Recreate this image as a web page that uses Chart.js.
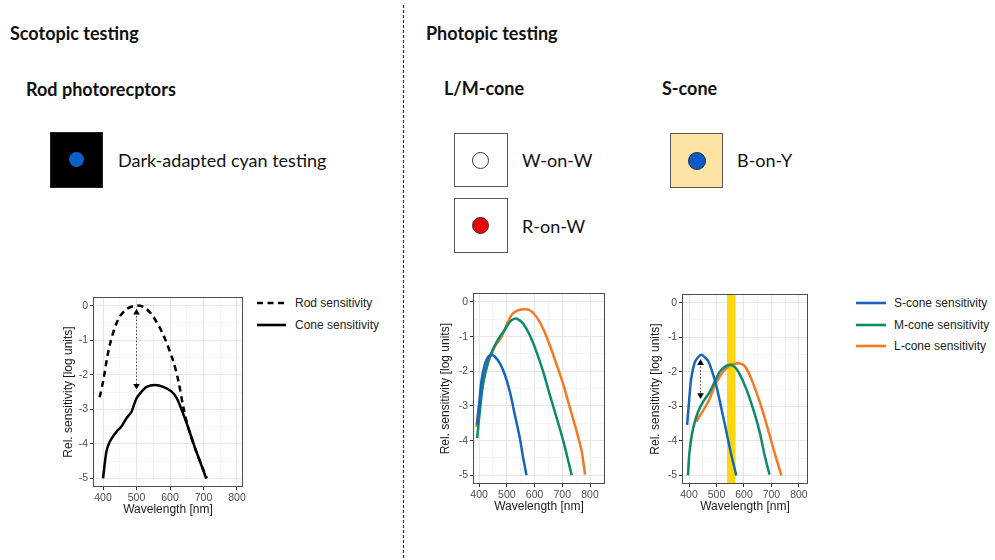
<!DOCTYPE html>
<html>
<head>
<meta charset="utf-8">
<script src="https://cdn.jsdelivr.net/npm/chart.js@4.4.0/dist/chart.umd.min.js"></script>
<style>
  body { margin: 0; background: #fff; }
  #page { position: relative; width: 995px; height: 560px; overflow: hidden; font-family: Lato, "Open Sans", sans-serif; color: #111; }
  .t { position: absolute; white-space: nowrap; line-height: 24px; }
  .h { font-weight: bold; font-size: 18px; }
  .lab { font-size: 18px; }
  .box { position: absolute; box-sizing: border-box; border: 1.5px solid #555; }
  .dot { position: absolute; border-radius: 50%; box-sizing: border-box; }
  canvas { position: absolute; }
  .leg { position: absolute; font-family: "Liberation Sans", Arial, sans-serif; font-size: 12px; color: #222; white-space: nowrap; line-height: 14px; }
</style>
</head>
<body>
<div id="page">
  <svg style="position:absolute;left:0;top:0" width="995" height="560">
    <line x1="403.5" y1="5" x2="403.5" y2="560" stroke="#333" stroke-width="1.2" stroke-dasharray="3 2"/>
    <!-- legend keys -->
    <line x1="257" y1="303" x2="286" y2="303" stroke="#000" stroke-width="2.6" stroke-dasharray="6 4.5"/>
    <line x1="257" y1="325" x2="286" y2="325" stroke="#000" stroke-width="2.6"/>
    <line x1="856" y1="303" x2="886" y2="303" stroke="#1565c0" stroke-width="2.6"/>
    <line x1="856" y1="325" x2="886" y2="325" stroke="#0b8a6c" stroke-width="2.6"/>
    <line x1="856" y1="346" x2="886" y2="346" stroke="#f7781f" stroke-width="2.6"/>
  </svg>

  <div class="t h" style="left:10px;top:21px">Scotopic testing</div>
  <div class="t h" style="left:26px;top:77px">Rod photorecptors</div>
  <div class="box" style="left:50px;top:132px;width:53px;height:56px;background:#000;border-color:#222"></div>
  <div class="dot" style="left:69px;top:152px;width:15px;height:15px;background:#0a5fc8"></div>
  <div class="t lab" style="left:118px;top:148px">Dark-adapted cyan testing</div>

  <div class="t h" style="left:426px;top:21px">Photopic testing</div>
  <div class="t h" style="left:444px;top:76px">L/M-cone</div>
  <div class="t h" style="left:662px;top:76px">S-cone</div>

  <div class="box" style="left:454px;top:133px;width:54px;height:54px;background:#fff"></div>
  <div class="dot" style="left:472px;top:152px;width:17px;height:17px;background:#fff;border:1.2px solid #333"></div>
  <div class="t lab" style="left:522px;top:148px">W-on-W</div>

  <div class="box" style="left:454px;top:198px;width:54px;height:55px;background:#fff"></div>
  <div class="dot" style="left:472px;top:217px;width:17px;height:17px;background:#e8000d;border:1.2px solid #333"></div>
  <div class="t lab" style="left:522px;top:214px">R-on-W</div>

  <div class="box" style="left:670px;top:133px;width:53px;height:55px;background:#fde4a4"></div>
  <div class="dot" style="left:688px;top:152px;width:18px;height:18px;background:#0a5bc4;border:1.2px solid #1b2a4a"></div>
  <div class="t lab" style="left:737px;top:148px">B-on-Y</div>

  <div class="leg" style="left:295px;top:296px">Rod sensitivity</div>
  <div class="leg" style="left:295px;top:318px">Cone sensitivity</div>
  <div class="leg" style="left:894px;top:296px">S-cone sensitivity</div>
  <div class="leg" style="left:894px;top:318px">M-cone sensitivity</div>
  <div class="leg" style="left:894px;top:339px">L-cone sensitivity</div>

  <canvas id="c1" style="left:50px;top:287px" width="200" height="238"></canvas>
  <canvas id="c2" style="left:428px;top:285px" width="185" height="240"></canvas>
  <canvas id="c3" style="left:638px;top:285px" width="180" height="240"></canvas>
</div>

<script>
// tick labels (major) and minor grid positions
const xTicks = [400, 500, 600, 700, 800];
const xMinor = [350, 450, 550, 650, 750, 850];
const yTicks = [0, -1, -2, -3, -4, -5];
const yMinor = [-0.5, -1.5, -2.5, -3.5, -4.5];

// scotopic: rod and cone sensitivity
const rodWl   = [390, 400, 420, 445, 470, 500, 525, 550, 580, 610, 625, 640, 655, 675, 690, 710];
const rodSens = [-2.65, -2.2, -1.14, -0.4, -0.1, 0, -0.06, -0.32, -0.85, -1.62, -2.18, -2.95, -3.55, -4.13, -4.52, -5];
const coneWl   = [400, 410, 420, 440, 455, 470, 485, 500, 515, 530, 555, 580, 605, 620, 635, 655, 675, 690, 708];
const coneSens = [-5, -4.23, -3.94, -3.65, -3.5, -3.26, -3.07, -2.68, -2.49, -2.35, -2.3, -2.35, -2.49, -2.68, -3.02, -3.55, -4.13, -4.52, -5];
const rodArrowWl = [500, 500];
const rodArrowY  = [-0.2, -2.32];

// photopic, L/M-cone panel
const lmSWl = [393, 400, 408, 420, 433, 445, 457, 475, 493, 511, 529, 547, 559, 571];
const lmS   = [-3.54, -2.97, -2.3, -1.82, -1.58, -1.53, -1.58, -1.77, -2.1, -2.59, -3.26, -3.93, -4.5, -5];
const lmMWl = [393, 400, 414, 433, 451, 475, 493, 511, 529, 541, 559, 583, 607, 631, 655, 680, 704, 722, 734];
const lmM   = [-3.93, -3.35, -2.39, -1.72, -1.34, -1.0, -0.8, -0.57, -0.48, -0.5, -0.62, -0.96, -1.44, -2.01, -2.68, -3.35, -4.02, -4.6, -5];
const lmLWl = [390, 400, 414, 433, 457, 481, 499, 517, 535, 559, 583, 607, 631, 655, 680, 704, 728, 752, 770, 782];
const lmL   = [-3.6, -2.97, -2.3, -1.72, -1.29, -1.0, -0.67, -0.38, -0.26, -0.21, -0.24, -0.43, -0.77, -1.25, -1.82, -2.39, -3.07, -3.74, -4.31, -4.98];

// photopic, S-cone panel (blue on yellow)
const syBand  = [538, 570];
const sySWl = [393, 400, 408, 421, 433, 445, 457, 469, 481, 499, 518, 536, 554, 572];
const syS   = [-3.54, -2.87, -2.2, -1.72, -1.58, -1.51, -1.58, -1.68, -1.92, -2.39, -3.07, -3.74, -4.41, -5];
const syMWl = [396, 402, 415, 433, 451, 475, 493, 511, 530, 548, 566, 584, 608, 633, 657, 675, 693];
const syM   = [-5, -4.31, -3.64, -3.16, -2.87, -2.59, -2.3, -2.01, -1.86, -1.8, -1.86, -2.06, -2.49, -3.07, -3.74, -4.41, -4.98];
const syLWl = [427, 439, 457, 475, 493, 511, 530, 548, 566, 584, 602, 620, 645, 669, 693, 717, 736];
const syL   = [-3.45, -3.28, -3.05, -2.78, -2.42, -2.15, -1.95, -1.82, -1.77, -1.76, -1.83, -2.08, -2.59, -3.16, -3.83, -4.5, -5];
const syArrowWl = [442, 442];
const syArrowY  = [-1.75, -2.68];

const BLUE = '#1565c0', GREEN = '#0b8a6c', ORANGE = '#f7781f';
const Y_MIN = -5.25, Y_MAX = 0.25;

function pts(xs, ys) {
  return xs.map((x, i) => ({ x: x, y: ys[i] }));
}

function curve(xs, ys, color, dash) {
  return {
    data: pts(xs, ys), borderColor: color, borderWidth: 2.5, borderDash: dash || [],
    pointRadius: 0, tension: 0.3, fill: false
  };
}

function arrow(xs, ys) {
  return {
    data: pts(xs, ys), borderColor: '#444', borderWidth: 1, borderDash: [1.5, 2],
    pointStyle: 'triangle', pointRadius: 3.8, pointRotation: [0, 180],
    pointBackgroundColor: '#000', pointBorderColor: '#000', pointBorderWidth: 0, fill: false
  };
}

const panelBorder = {
  id: 'panelBorder',
  afterDraw(chart) {
    const a = chart.chartArea, c = chart.ctx;
    c.save();
    c.strokeStyle = '#4d4d4d';
    c.lineWidth = 1;
    c.strokeRect(Math.round(a.left) + 0.5, Math.round(a.top) + 0.5, Math.round(a.right - a.left) - 1, Math.round(a.bottom - a.top) - 1);
    c.restore();
  }
};

function makeChart(id, datasets, xMin, xMax, lay) {
  const isMajorX = v => xTicks.includes(v);
  const isMajorY = v => yTicks.includes(v);
  return new Chart(document.getElementById(id), {
    type: 'line',
    data: { datasets: datasets },
    plugins: [panelBorder],
    options: {
      responsive: false,
      animation: false,
      events: [],
      layout: { padding: { top: lay.top, right: lay.right, left: 0, bottom: 0 } },
      plugins: { legend: { display: false }, tooltip: { enabled: false } },
      scales: {
        x: {
          type: 'linear', min: xMin, max: xMax,
          afterBuildTicks: s => { s.ticks = xTicks.concat(xMinor).filter(v => v > xMin && v < xMax).sort((a, b) => a - b).map(v => ({ value: v })); },
          afterFit: s => { s.height = lay.xh; },
          border: { display: false },
          grid: {
            color: c => isMajorX(c.tick.value) ? '#e6e6e6' : '#f2f2f2',
            lineWidth: c => isMajorX(c.tick.value) ? 1 : 0.8,
            tickColor: c => isMajorX(c.tick.value) ? '#333' : 'rgba(0,0,0,0)',
            tickLength: 3, drawTicks: true
          },
          ticks: {
            autoSkip: false, maxRotation: 0, padding: 2, color: '#4d4d4d',
            font: { family: 'Liberation Sans', size: 10.5 },
            callback: v => isMajorX(v) ? String(v) : ''
          },
          title: {
            display: true, text: 'Wavelength [nm]', color: '#1a1a1a',
            font: { family: 'Liberation Sans', size: 12 }, padding: { top: 0, bottom: lay.tb }
          }
        },
        y: {
          type: 'linear', min: Y_MIN, max: Y_MAX,
          afterBuildTicks: s => { s.ticks = yTicks.concat(yMinor).sort((a, b) => a - b).map(v => ({ value: v })); },
          afterFit: s => { s.width = lay.yw; },
          border: { display: false },
          grid: {
            color: c => isMajorY(c.tick.value) ? '#e6e6e6' : '#f2f2f2',
            lineWidth: c => isMajorY(c.tick.value) ? 1 : 0.8,
            tickColor: c => isMajorY(c.tick.value) ? '#333' : 'rgba(0,0,0,0)',
            tickLength: 3, drawTicks: true
          },
          ticks: {
            autoSkip: false, padding: 2, color: '#4d4d4d',
            font: { family: 'Liberation Sans', size: 10.5 },
            callback: v => isMajorY(v) ? String(v) : ''
          },
          title: {
            display: true, text: 'Rel. sensitivity [log units]', color: '#1a1a1a',
            font: { family: 'Liberation Sans', size: 12 }, padding: { top: lay.tl, bottom: 0 }
          }
        }
      }
    }
  });
}

makeChart('c1', [
  arrow(rodArrowWl, rodArrowY),
  curve(rodWl, rodSens, '#000', [6, 4.5]),
  curve(coneWl, coneSens, '#000')
], 370, 818, { top: 10, right: 7, yw: 43, xh: 38, tb: 8, tl: 11 });

makeChart('c2', [
  curve(lmSWl, lmS, BLUE),
  curve(lmMWl, lmM, GREEN),
  curve(lmLWl, lmL, ORANGE)
], 378, 854, { top: 8, right: 8, yw: 45, xh: 41, tb: 11, tl: 10 });

const band = {
  data: pts(syBand, [Y_MAX, Y_MAX]), borderWidth: 0, pointRadius: 0,
  backgroundColor: '#ffd60a', fill: { value: Y_MIN }, order: 10
};
makeChart('c3', [
  arrow(syArrowWl, syArrowY),
  curve(sySWl, syS, BLUE),
  curve(syMWl, syM, GREEN),
  curve(syLWl, syL, ORANGE),
  band
], 374.5, 833, { top: 9, right: 10, yw: 44, xh: 41, tb: 11, tl: 10 });
</script>
</body>
</html>
